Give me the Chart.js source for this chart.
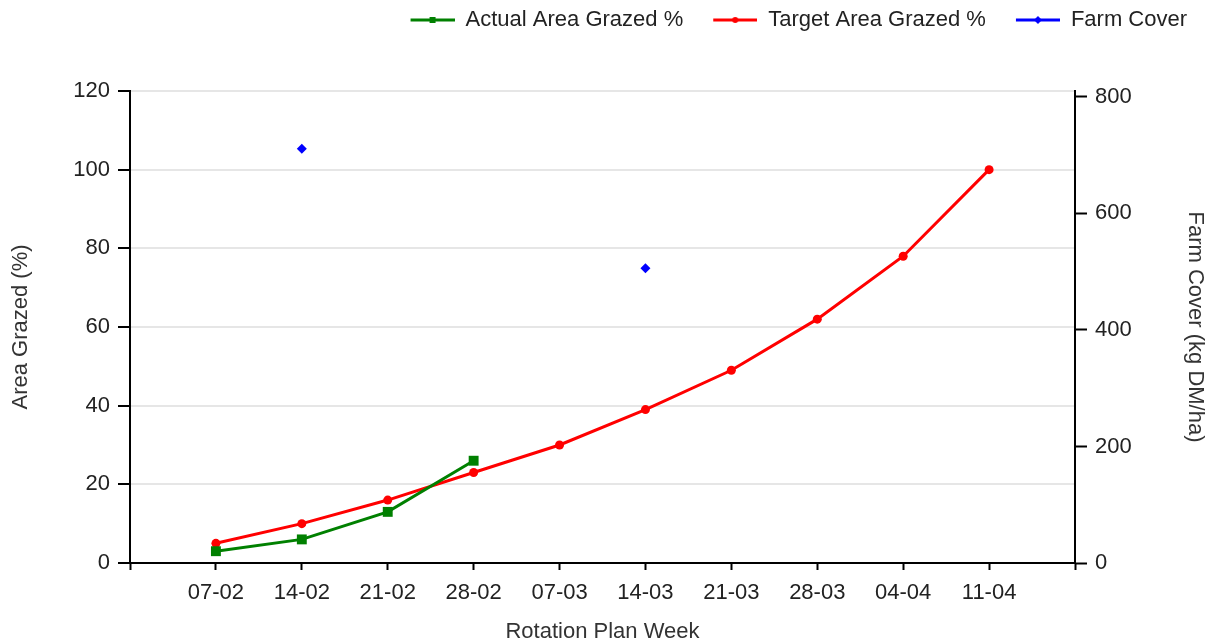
<!DOCTYPE html>
<html>
<head>
<meta charset="utf-8">
<title>Rotation Plan</title>
<script src="https://cdn.jsdelivr.net/npm/chart.js@4.4.1/dist/chart.umd.min.js"></script>
<style>
    html, body { margin: 0; padding: 0; background: #fff; }
    #wrap { width: 1216px; height: 644px; position: relative; }
</style>
</head>
<body>
<div id="wrap"><canvas id="grazingChart"></canvas></div>
<script>
// Rotation plan data - empty slot at each end so the weeks sit inside the axis
const weeks = ['', '07-02', '14-02', '21-02', '28-02', '07-03', '14-03', '21-03', '28-03', '04-04', '11-04', ''];
const actualGrazed = [null, 3, 6, 13, 26, null, null, null, null, null, null, null];
const targetGrazed = [null, 5, 10, 16, 23, 30, 39, 49, 62, 78, 100, null];
const farmCover = [null, null, 711, null, null, null, 506, null, null, null, null, null];

const areaTicks = [0, 20, 40, 60, 80, 100, 120];
const coverTicks = [0, 200, 400, 600, 800];

const GREEN = '#008000';
const RED = '#ff0000';
const BLUE = '#0000ff';
const TEXT = '#222';

Chart.defaults.font.family = "'Liberation Sans', Arial, sans-serif";
Chart.defaults.font.size = 22;
Chart.defaults.color = TEXT;

// small line + marker image for each legend entry
function legendIcon(color, marker) {
    const c = document.createElement('canvas');
    c.width = 65;
    c.height = 12;
    const g = c.getContext('2d');
    g.strokeStyle = color;
    g.fillStyle = color;
    g.lineWidth = 3;
    g.beginPath();
    g.moveTo(21, 6);
    g.lineTo(65, 6);
    g.stroke();
    const cx = 43, cy = 6;
    g.beginPath();
    if (marker === 'square') {
        g.rect(cx - 3, cy - 3, 6, 6);
    } else if (marker === 'circle') {
        g.arc(cx, cy, 3, 0, Math.PI * 2);
    } else {
        g.moveTo(cx, cy - 4);
        g.lineTo(cx + 4, cy);
        g.lineTo(cx, cy + 4);
        g.lineTo(cx - 4, cy);
        g.closePath();
    }
    g.fill();
    return c;
}

const legendIcons = [
    legendIcon(GREEN, 'square'),
    legendIcon(RED, 'circle'),
    legendIcon(BLUE, 'diamond')
];

// push the plot down below the legend and pull the legend row in from the right edge
const legendGap = {
    id: 'legendGap',
    beforeInit(chart) {
        const fit = chart.legend.fit;
        chart.legend.fit = function() {
            fit.bind(chart.legend)();
            this.height += 50;
            if (this.lineWidths) {
                this.lineWidths = this.lineWidths.map(w => w + 20);
            }
        };
    }
};

const ctx = document.getElementById('grazingChart').getContext('2d');

new Chart(ctx, {
    type: 'line',
    data: {
        labels: weeks,
        datasets: [{
            label: 'Actual Area Grazed %',
            data: actualGrazed,
            yAxisID: 'y',
            borderColor: GREEN,
            backgroundColor: GREEN,
            borderWidth: 3,
            pointStyle: 'rect',
            pointRadius: 7,
            pointBorderWidth: 0,
            tension: 0
        }, {
            label: 'Target Area Grazed %',
            data: targetGrazed,
            yAxisID: 'y',
            borderColor: RED,
            backgroundColor: RED,
            borderWidth: 3,
            pointStyle: 'circle',
            pointRadius: 4.5,
            pointBorderWidth: 0,
            tension: 0
        }, {
            label: 'Farm Cover',
            data: farmCover,
            yAxisID: 'y1',
            borderColor: BLUE,
            backgroundColor: BLUE,
            showLine: false,
            pointStyle: 'rectRot',
            pointRadius: 5,
            pointBorderWidth: 0
        }]
    },
    options: {
        responsive: true,
        maintainAspectRatio: false,
        animation: false,
        plugins: {
            legend: {
                position: 'top',
                align: 'end',
                labels: {
                    usePointStyle: true,
                    pointStyleWidth: 65,
                    padding: 9,
                    color: TEXT,
                    font: { size: 22 },
                    generateLabels(chart) {
                        const items = Chart.defaults.plugins.legend.labels.generateLabels(chart);
                        items.forEach((item, i) => { item.pointStyle = legendIcons[i]; });
                        return items;
                    }
                }
            },
            tooltip: { enabled: false }
        },
        scales: {
            x: {
                offset: false,
                afterFit(scale) { scale.height = 81; },
                grid: {
                    drawOnChartArea: false,
                    tickLength: 7,
                    tickColor: '#000',
                    tickWidth: 2
                },
                border: { color: '#000', width: 2 },
                ticks: {
                    autoSkip: false,
                    maxRotation: 0,
                    padding: 10,
                    color: TEXT,
                    font: { size: 22 }
                },
                title: {
                    display: true,
                    text: 'Rotation Plan Week',
                    color: '#333',
                    font: { size: 22, lineHeight: 1 },
                    padding: { top: 0, bottom: 1 }
                }
            },
            y: {
                position: 'left',
                min: 0,
                max: 120,
                afterFit(scale) { scale.width = 130; },
                afterBuildTicks(axis) { axis.ticks = areaTicks.map(v => ({ value: v })); },
                grid: {
                    color: '#e6e6e6',
                    lineWidth: 2,
                    tickLength: 12,
                    tickColor: '#000',
                    tickWidth: 2
                },
                border: { color: '#000', width: 2 },
                ticks: {
                    padding: 8,
                    color: TEXT,
                    font: { size: 22 }
                },
                title: {
                    display: true,
                    text: 'Area Grazed (%)',
                    color: '#333',
                    font: { size: 22 },
                    padding: { top: 8, bottom: 0 }
                }
            },
            y1: {
                position: 'right',
                min: 0,
                max: 810,
                afterFit(scale) { scale.width = 141; },
                afterBuildTicks(axis) { axis.ticks = coverTicks.map(v => ({ value: v })); },
                grid: {
                    drawOnChartArea: false,
                    tickLength: 12,
                    tickColor: '#000',
                    tickWidth: 2
                },
                border: { color: '#000', width: 2 },
                ticks: {
                    padding: 8,
                    color: TEXT,
                    font: { size: 22 }
                },
                title: {
                    display: true,
                    text: 'Farm Cover (kg DM/ha)',
                    color: '#333',
                    font: { size: 22 },
                    padding: { top: 8, bottom: 0 }
                }
            }
        }
    },
    plugins: [legendGap]
});
</script>
</body>
</html>
